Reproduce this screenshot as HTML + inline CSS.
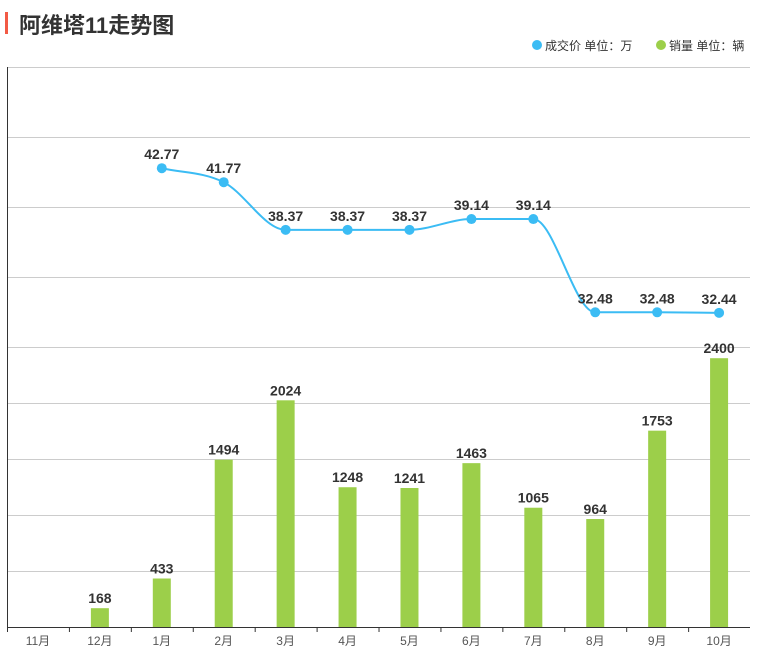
<!DOCTYPE html>
<html><head><meta charset="utf-8"><style>
body{margin:0;background:#fff;width:762px;height:662px;overflow:hidden;font-family:"Liberation Sans","Noto Sans CJK SC",sans-serif}
</style></head><body>
<svg id="s" width="762" height="662" xmlns="http://www.w3.org/2000/svg" font-family="Liberation Sans, Noto Sans CJK SC, sans-serif">
<rect x="5" y="12" width="3" height="22" fill="#f25a45"/>
<text x="19" y="33" font-size="22" font-weight="bold" fill="#333">阿维塔11走势图</text>
<circle cx="537" cy="45" r="5" fill="#3bbcf4"/>
<text x="545" y="50" font-size="12" fill="#333">成交价  单位：万</text>
<circle cx="661" cy="45" r="5" fill="#9ccf4a"/>
<text x="669" y="50" font-size="12" fill="#333">销量  单位：辆</text>
<g id="g"></g>
</svg>
<script>
var g=document.getElementById('g'),h='';
[67,137,207,277,347,403,459,515,571].forEach(function(y){h+='<line x1="7" x2="750" y1="'+(y+.5)+'" y2="'+(y+.5)+'" stroke="#ccc"/>';});
h+='<line x1="7.5" x2="7.5" y1="67" y2="627" stroke="#333"/>';
h+='<line x1="7" x2="750" y1="627.5" y2="627.5" stroke="#333"/>';
var st=61.92,lab=['11月','12月','1月','2月','3月','4月','5月','6月','7月','8月','9月','10月'];
var sales=[0,168,433,1494,2024,1248,1241,1463,1065,964,1753,2400];
for(var i=0;i<12;i++){var x=7+st*i;h+='<line x1="'+(x+.5)+'" x2="'+(x+.5)+'" y1="627" y2="632" stroke="#333"/>';
var cx=7+st*(i+.5);h+='<text x="'+cx+'" y="645" font-size="12" fill="#555" text-anchor="middle">'+lab[i]+'</text>';
if(sales[i]>0){var bh=sales[i]*280/2500;h+='<rect x="'+(cx-9)+'" y="'+(627-bh)+'" width="18" height="'+bh+'" fill="#9ccf4a"/>';
h+='<text x="'+cx+'" y="'+(627-bh-5)+'" font-size="14" font-weight="bold" fill="#333" text-anchor="middle">'+sales[i]+'</text>';}}
var pr=[null,null,42.77,41.77,38.37,38.37,38.37,39.14,39.14,32.48,32.48,32.44],P=[];
for(var i=2;i<12;i++)P.push([7+st*(i+.5),347-(pr[i]-30)*14,pr[i]]);
var n=P.length,dl=[],m=[];
for(var i=0;i<n-1;i++)dl.push((P[i+1][1]-P[i][1])/st);
m[0]=dl[0];m[n-1]=dl[n-2];
for(var i=1;i<n-1;i++){m[i]=(dl[i-1]*dl[i]<=0)?0:(dl[i-1]+dl[i])/2;}
for(var i=0;i<n-1;i++){if(dl[i]==0){m[i]=0;m[i+1]=0;}}
var d='M'+P[0][0]+','+P[0][1];
for(var i=0;i<n-1;i++){var a=P[i],b=P[i+1];
d+=' C'+(a[0]+st/3)+','+(a[1]+m[i]*st/3)+' '+(b[0]-st/3)+','+(b[1]-m[i+1]*st/3)+' '+b[0]+','+b[1];}
h+='<path d="'+d+'" fill="none" stroke="#3bbcf4" stroke-width="2"/>';
P.forEach(function(p){h+='<circle cx="'+p[0]+'" cy="'+p[1]+'" r="5" fill="#3bbcf4"/><text x="'+p[0]+'" y="'+(p[1]-9)+'" font-size="14" font-weight="bold" fill="#333" text-anchor="middle">'+p[2].toFixed(2)+'</text>';});
g.innerHTML=h;
</script>
</body></html>
